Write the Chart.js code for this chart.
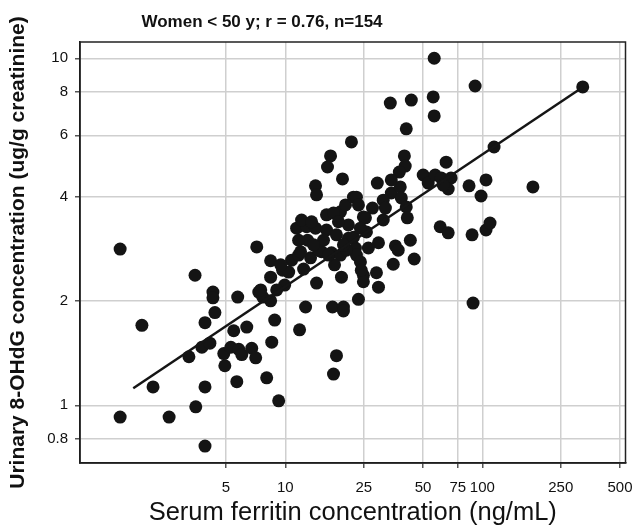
<!DOCTYPE html>
<html>
<head>
<meta charset="utf-8">
<script src="https://cdn.jsdelivr.net/npm/chart.js@4.4.1/dist/chart.umd.min.js"></script>
<style>
  body { margin: 0; background: #fff; }
  canvas { display: block; }
</style>
</head>
<body>
<canvas id="ferritinChart" width="632" height="532"></canvas>
<script>
// Ferritin huyết thanh (ng/mL) - trục X
var ferritin = [
    1.45, 1.87, 1.45, 2.13, 2.57, 3.48, 3.51, 3.91, 3.91, 3.24,
    4.29, 4.29, 4.39, 3.91, 3.77, 4.14, 4.87, 4.93, 5.29, 5.80,
    6.01, 6.75, 7.07, 5.67, 8.04, 9.25, 5.73, 5.47, 6.37, 7.33,
    7.68, 8.42, 8.83, 8.53, 7.16, 8.42, 8.42, 9.69, 9.92, 7.50,
    9.04, 10.76, 11.68, 12.38, 13.43, 11.95, 12.67, 11.81, 14.40, 17.35,
    19.72, 19.72, 18.18, 17.56, 19.27, 15.27, 17.15, 19.05, 17.77, 12.97,
    11.41, 12.82, 14.23, 16.18, 18.18, 20.91, 14.74, 16.56, 22.69, 12.09,
    13.59, 16.18, 19.05, 20.20, 22.17, 21.65, 16.96, 16.37, 19.50, 14.23,
    14.40, 56.97, 91.9, 323.3, 34.1, 43.6, 56.3, 56.97, 41.1, 40.2,
    40.6, 37.9, 29.3, 50.1, 53.1, 57.6, 61.8, 69.4, 67.1, 63.3,
    65.5, 114.7, 85.6, 104.4, 98.5, 180.6, 17.56, 34.5, 31.4, 32.2,
    38.3, 38.8, 41.1, 41.6, 27.7, 31.4, 61.1, 67.1, 88.7, 104.4,
    109.4, 25.5, 25.8, 22.17, 29.7, 36.2, 37.4, 43.1, 45.1, 22.95,
    23.5, 24.9, 26.4, 22.95, 24.05, 24.9, 24.9, 29.0, 29.7, 35.3,
    23.5, 89.7, 24.3, 15.62, 10.4, 13.9, 20.9, 20.4, 11.68, 9.47,
    24.05, 19.72, 34.5, 18.6
];
// 8-OHdG nước tiểu (ug/g creatinine) - trục Y
var ohdg = [
    2.82, 1.70, 0.925, 1.13, 0.925, 2.37, 0.99, 0.763, 1.13, 1.38,
    2.12, 2.04, 1.85, 1.73, 1.47, 1.51, 1.41, 1.30, 1.47, 1.45,
    1.40, 1.46, 1.37, 1.17, 1.20, 1.03, 2.05, 1.64, 1.68, 2.12,
    2.05, 2.00, 1.76, 1.52, 2.86, 2.61, 2.34, 2.45, 2.22, 2.15,
    2.15, 2.62, 2.71, 2.47, 2.66, 2.77, 1.92, 1.65, 2.25, 1.92,
    1.92, 1.87, 1.39, 1.23, 2.34, 2.77, 2.75, 2.71, 2.54, 2.99,
    3.24, 3.27, 3.24, 3.20, 3.10, 3.03, 2.80, 2.71, 2.84, 3.42,
    3.38, 3.54, 3.61, 3.78, 3.98, 5.74, 5.23, 4.86, 4.49, 4.29,
    4.04, 10.0, 8.32, 8.27, 7.43, 7.58, 7.74, 6.82, 6.26, 5.23,
    4.89, 4.70, 4.37, 4.61, 4.37, 4.61, 4.52, 4.52, 4.20, 4.31,
    5.02, 5.55, 4.29, 4.46, 4.01, 4.26, 3.58, 4.09, 3.90, 3.70,
    4.26, 3.96, 3.73, 3.47, 3.70, 3.42, 3.27, 3.14, 3.10, 3.20,
    3.35, 3.47, 3.16, 3.05, 2.94, 2.88, 2.80, 2.99, 2.64, 3.98,
    3.78, 3.49, 2.84, 2.71, 2.59, 2.37, 2.27, 2.41, 2.19, 2.55,
    2.02, 1.97, 2.45, 2.99, 2.42, 2.90, 3.31, 2.80, 2.99, 2.54,
    3.24, 2.90, 4.46, 3.38
];
// Đường hồi quy (2 đầu mút)
var fitX = [1.69, 323];
var fitY = [1.12, 8.25];
// Nhãn trục
var xTicks = [5, 10, 25, 50, 75, 100, 250, 500];
var yTicks = [0.8, 1, 2, 4, 6, 8, 10];

var tieuDe = 'Women < 50 y; r = 0.76, n=154';
var phongChu = '"Liberation Sans", Arial, sans-serif';

var points = [];
ferritin.forEach(function (x, i) {
    points.push({ x: x, y: ohdg[i] });
});
var fitLine = [];
fitX.forEach(function (x, i) {
    fitLine.push({ x: x, y: fitY[i] });
});

// Vẽ tiêu đề và khung quanh vùng đồ thị
var khungPlugin = {
    id: 'khung',
    afterDraw: function (chart) {
        var ctx = chart.ctx;
        var a = chart.chartArea;
        ctx.save();
        ctx.strokeStyle = '#222';
        ctx.lineWidth = 1.5;
        ctx.strokeRect(a.left, a.top, a.right - a.left, a.bottom - a.top);
        ctx.fillStyle = '#111';
        ctx.font = 'bold 17px ' + phongChu;
        ctx.textAlign = 'center';
        ctx.textBaseline = 'middle';
        ctx.fillText(tieuDe, 262, 22);
        ctx.restore();
    }
};

var ctx = document.getElementById('ferritinChart').getContext('2d');
var myChart = new Chart(ctx, {
    type: 'scatter',
    data: {
        datasets: [{
            type: 'line',
            data: fitLine,
            borderColor: '#151515',
            borderWidth: 2.5,
            pointRadius: 0,
            fill: false
        }, {
            data: points,
            backgroundColor: '#141414',
            borderWidth: 0,
            pointRadius: 6.5
        }]
    },
    options: {
        responsive: false,
        animation: false,
        layout: { padding: { top: 42, right: 4, left: 0, bottom: 0 } },
        plugins: {
            legend: { display: false },
            tooltip: { enabled: false }
        },
        scales: {
            x: {
                type: 'logarithmic',
                min: 0.907,
                max: 533,
                afterBuildTicks: function (scale) {
                    scale.ticks = xTicks.map(function (v) { return { value: v }; });
                },
                afterFit: function (scale) {
                    scale.height = 69;
                    scale.paddingLeft = 0;
                    scale.paddingRight = 0;
                },
                ticks: {
                    autoSkip: false,
                    maxRotation: 0,
                    padding: 11,
                    color: '#111',
                    font: { family: phongChu, size: 15 },
                    callback: function (v) { return String(v); }
                },
                grid: { color: '#cfcfcf', lineWidth: 1.5, tickLength: 5, tickColor: '#555' },
                border: { color: '#111', width: 1.5 },
                title: {
                    display: true,
                    text: 'Serum ferritin concentration (ng/mL)',
                    color: '#111',
                    font: { family: phongChu, size: 25.5 },
                    padding: { bottom: 4 }
                }
            },
            y: {
                type: 'logarithmic',
                min: 0.682,
                max: 11.14,
                afterBuildTicks: function (scale) {
                    scale.ticks = yTicks.map(function (v) { return { value: v }; });
                },
                afterFit: function (scale) {
                    scale.width = 80;
                    scale.paddingTop = 0;
                    scale.paddingBottom = 0;
                },
                ticks: {
                    autoSkip: false,
                    padding: 7,
                    color: '#111',
                    font: { family: phongChu, size: 15 },
                    callback: function (v) { return String(v); }
                },
                grid: { color: '#cfcfcf', lineWidth: 1.5, tickLength: 5, tickColor: '#555' },
                border: { color: '#111', width: 1.5 },
                title: {
                    display: true,
                    text: 'Urinary 8-OHdG concentration (ug/g creatinine)',
                    color: '#111',
                    font: { family: phongChu, size: 21, weight: 'bold' },
                    padding: { top: 6 }
                }
            }
        }
    },
    plugins: [khungPlugin]
});
</script>
</body>
</html>
